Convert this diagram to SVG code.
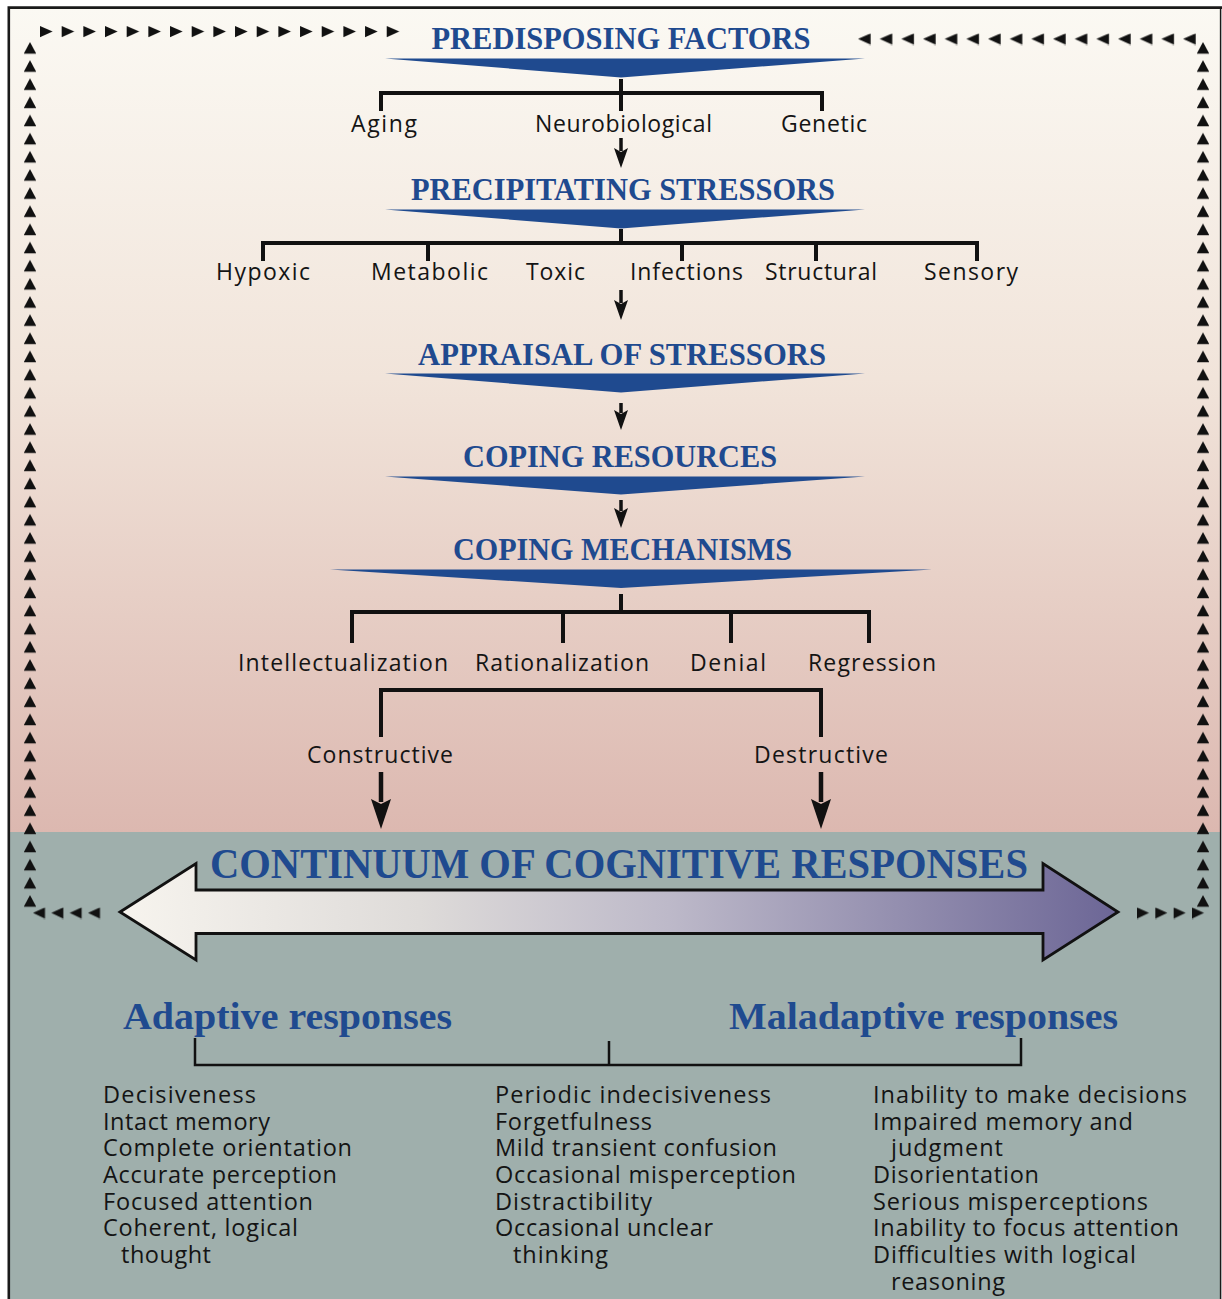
<svg xmlns="http://www.w3.org/2000/svg" width="1222" height="1299" viewBox="0 0 1222 1299">
  <defs>
    <style>
      .head { font-family: "Liberation Serif", "Times New Roman", serif; font-weight: bold; fill: #1f4a8f; }
      .lbl { font-family: "Open Sans", "Noto Sans", "DejaVu Sans", sans-serif; font-size: 23px; fill: #141414; }
      .lst { font-family: "Open Sans", "Noto Sans", "DejaVu Sans", sans-serif; font-size: 23.5px; fill: #141414; }
      .bar { fill: none; stroke: #111; stroke-width: 4; stroke-linejoin: miter; stroke-linecap: butt; }
      .thin { fill: none; stroke: #111; stroke-width: 2.5; }
      .banner { fill: #1f4a8f; }
      .step { stroke: #111; stroke-width: 3.5; }
    </style>
    <linearGradient id="bgTop" x1="0" y1="8" x2="0" y2="832" gradientUnits="userSpaceOnUse">
      <stop offset="0" stop-color="#fbf9f3"/>
      <stop offset="0.45" stop-color="#f1e4da"/>
      <stop offset="1" stop-color="#dcb8b0"/>
    </linearGradient>
    <linearGradient id="arrowFill" x1="120" y1="0" x2="1118" y2="0" gradientUnits="userSpaceOnUse">
      <stop offset="0" stop-color="#f7f4ee"/>
      <stop offset="0.3" stop-color="#dedbd9"/>
      <stop offset="0.55" stop-color="#bdb9c9"/>
      <stop offset="1" stop-color="#6c6696"/>
    </linearGradient>
    <!-- dotted feedback borders made of small triangles -->
    <pattern id="triUp" patternUnits="userSpaceOnUse" x="24" y="42" width="12" height="18.15">
      <path d="M6,0 L12.3,11.7 L-0.3,11.7 Z" fill="#111"/>
    </pattern>
    <pattern id="triRight" patternUnits="userSpaceOnUse" x="40" y="26" width="21.67" height="12">
      <path d="M0,0 L12.6,5.6 L0,11.2 Z" fill="#111"/>
    </pattern>
    <pattern id="triLeft" patternUnits="userSpaceOnUse" x="858" y="33.4" width="21.67" height="12">
      <path d="M12.6,0 L0,5.6 L12.6,11.2 Z" fill="#111"/>
    </pattern>
    <pattern id="triLeftS" patternUnits="userSpaceOnUse" x="33" y="907.4" width="18.33" height="12">
      <path d="M12,0 L0,5.6 L12,11.2 Z" fill="#111"/>
    </pattern>
    <pattern id="triRightS" patternUnits="userSpaceOnUse" x="1137" y="907.4" width="18.33" height="12">
      <path d="M0,0 L12,5.6 L0,11.2 Z" fill="#111"/>
    </pattern>
    <marker id="headS" viewBox="0 0 20 16" refX="3" refY="8" markerWidth="20" markerHeight="16" markerUnits="userSpaceOnUse" orient="auto">
      <path d="M0,1 L20,8 L0,15 L4,8 Z" fill="#111"/>
    </marker>
    <marker id="headL" viewBox="0 0 30 22" refX="3" refY="11" markerWidth="30" markerHeight="22" markerUnits="userSpaceOnUse" orient="auto">
      <path d="M0,1 L30,11 L0,21 L5,11 Z" fill="#111"/>
    </marker>
  </defs>

  <!-- backgrounds -->
  <rect x="0" y="0" width="1222" height="1299" fill="#ffffff"/>
  <rect x="9" y="8" width="1212" height="825" fill="url(#bgTop)"/>
  <rect x="9" y="832" width="1212" height="470" fill="#9fafac"/>
  <path d="M8.8,1305 V7.6 H1222" fill="none" stroke="#1a1a1a" stroke-width="2.6"/>
  <path d="M1220.6,7.6 V1305" fill="none" stroke="#1a1a1a" stroke-width="1.5"/>

  <!-- feedback loop borders -->
  <g id="feedback-loop">
    <rect x="24" y="42" width="12" height="866" fill="url(#triUp)"/>
    <rect x="24" y="42" width="12" height="866" fill="url(#triUp)" transform="translate(1173,0)"/>
    <rect x="40" y="26" width="360" height="12" fill="url(#triRight)"/>
    <rect x="858" y="33.4" width="340" height="12" fill="url(#triLeft)"/>
    <rect x="33" y="907.4" width="68" height="12" fill="url(#triLeftS)"/>
    <rect x="1137" y="907.4" width="68" height="12" fill="url(#triRightS)"/>
  </g>

  <!-- connectors -->
  <g id="connectors">
    <path class="bar" d="M381,111 V93 H822 V111 M621,79 V111"/>
    <path class="bar" d="M263,261 V243 H977 V261 M428,243 V261 M682,243 V261 M816,243 V261 M621,229 V243"/>
    <path class="bar" d="M352,643 V612 H869 V643 M563,612 V643 M731,612 V643 M621,594 V612"/>
    <path class="bar" d="M381,737 V690 H821 V737" stroke-width="4.6"/>
    <line class="step" x1="621" y1="138" x2="621" y2="151" marker-end="url(#headS)"/>
    <line class="step" x1="621" y1="290" x2="621" y2="303" marker-end="url(#headS)"/>
    <line class="step" x1="621" y1="403" x2="621" y2="413" marker-end="url(#headS)"/>
    <line class="step" x1="621" y1="500" x2="621" y2="511" marker-end="url(#headS)"/>
    <line x1="381" y1="772" x2="381" y2="802" stroke="#111" stroke-width="4.5" marker-end="url(#headL)"/>
    <line x1="821" y1="772" x2="821" y2="802" stroke="#111" stroke-width="4.5" marker-end="url(#headL)"/>
    <path class="thin" d="M195,1038 V1065 H1021 V1038 M609,1041 V1065"/>
  </g>

  <!-- stage headings with their wedge banners -->
  <g id="predisposing-factors">
    <text class="head" x="621" y="49" font-size="31" text-anchor="middle" textLength="379" lengthAdjust="spacingAndGlyphs">PREDISPOSING FACTORS</text>
    <path class="banner" d="M385,58.5 L865,58.5 L621,77.5 Z"/>
  </g>
  <g id="precipitating-stressors">
    <text class="head" x="623" y="200" font-size="31" text-anchor="middle" textLength="424" lengthAdjust="spacingAndGlyphs">PRECIPITATING STRESSORS</text>
    <path class="banner" d="M385,209.5 L865,209.5 L621,228.5 Z"/>
  </g>
  <g id="appraisal-of-stressors">
    <text class="head" x="622" y="365" font-size="31" text-anchor="middle" textLength="408" lengthAdjust="spacingAndGlyphs">APPRAISAL OF STRESSORS</text>
    <path class="banner" d="M385,373.5 L865,373.5 L621,392.5 Z"/>
  </g>
  <g id="coping-resources">
    <text class="head" x="620" y="467" font-size="31" text-anchor="middle" textLength="314" lengthAdjust="spacingAndGlyphs">COPING RESOURCES</text>
    <path class="banner" d="M385,476.5 L865,476.5 L621,494.5 Z"/>
  </g>
  <g id="coping-mechanisms">
    <text class="head" x="622.5" y="560" font-size="31" text-anchor="middle" textLength="339" lengthAdjust="spacingAndGlyphs">COPING MECHANISMS</text>
    <path class="banner" d="M330,569.5 L932,569.5 L621,588 Z"/>
  </g>

  <!-- predisposing factors -->
  <g id="aging"><text class="lbl" x="351" y="132" textLength="66">Aging</text></g>
  <g id="neurobiological"><text class="lbl" x="535" y="132" textLength="177">Neurobiological</text></g>
  <g id="genetic"><text class="lbl" x="781" y="132" textLength="86">Genetic</text></g>

  <!-- precipitating stressors -->
  <g id="hypoxic"><text class="lbl" x="216" y="280" textLength="94">Hypoxic</text></g>
  <g id="metabolic"><text class="lbl" x="371" y="280" textLength="117">Metabolic</text></g>
  <g id="toxic"><text class="lbl" x="526" y="280" textLength="59">Toxic</text></g>
  <g id="infections"><text class="lbl" x="630" y="280" textLength="113">Infections</text></g>
  <g id="structural"><text class="lbl" x="765" y="280" textLength="112">Structural</text></g>
  <g id="sensory"><text class="lbl" x="924" y="280" textLength="94">Sensory</text></g>

  <!-- coping mechanisms -->
  <g id="intellectualization"><text class="lbl" x="238" y="671" textLength="210">Intellectualization</text></g>
  <g id="rationalization"><text class="lbl" x="475" y="671" textLength="174">Rationalization</text></g>
  <g id="denial"><text class="lbl" x="690" y="671" textLength="76">Denial</text></g>
  <g id="regression"><text class="lbl" x="808" y="671" textLength="128">Regression</text></g>
  <g id="constructive"><text class="lbl" x="307" y="763" textLength="146">Constructive</text></g>
  <g id="destructive"><text class="lbl" x="754" y="763" textLength="134">Destructive</text></g>

  <!-- continuum of responses -->
  <g id="continuum">
    <path d="M120,912 L196,863.5 L196,890 L1043,890 L1043,863.5 L1118,912 L1043,960 L1043,933.5 L196,933.5 L196,960 Z" fill="url(#arrowFill)" stroke="#111" stroke-width="2.8" stroke-linejoin="miter"/>
    <text class="head" x="619" y="878" font-size="42" text-anchor="middle" textLength="818" lengthAdjust="spacingAndGlyphs">CONTINUUM OF COGNITIVE RESPONSES</text>
  </g>

  <g id="adaptive-responses">
    <text class="head" x="287.5" y="1029" font-size="37" text-anchor="middle" textLength="329" lengthAdjust="spacingAndGlyphs">Adaptive responses</text>
  </g>
  <g id="maladaptive-responses">
    <text class="head" x="923.5" y="1029" font-size="37" text-anchor="middle" textLength="389" lengthAdjust="spacingAndGlyphs">Maladaptive responses</text>
  </g>

  <g id="adaptive-list">
    <text class="lst" x="103" y="1103" textLength="153">Decisiveness</text>
    <text class="lst" x="103" y="1130" textLength="167">Intact memory</text>
    <text class="lst" x="103" y="1156" textLength="249">Complete orientation</text>
    <text class="lst" x="103" y="1183" textLength="234">Accurate perception</text>
    <text class="lst" x="103" y="1210" textLength="210">Focused attention</text>
    <text class="lst" x="103" y="1236" textLength="195">Coherent, logical</text>
    <text class="lst" x="121" y="1263" textLength="90">thought</text>
  </g>
  <g id="intermediate-list">
    <text class="lst" x="495" y="1103" textLength="276">Periodic indecisiveness</text>
    <text class="lst" x="495" y="1130" textLength="157">Forgetfulness</text>
    <text class="lst" x="495" y="1156" textLength="282">Mild transient confusion</text>
    <text class="lst" x="495" y="1183" textLength="301">Occasional misperception</text>
    <text class="lst" x="495" y="1210" textLength="157">Distractibility</text>
    <text class="lst" x="495" y="1236" textLength="218">Occasional unclear</text>
    <text class="lst" x="513" y="1263" textLength="95">thinking</text>
  </g>
  <g id="maladaptive-list">
    <text class="lst" x="873" y="1103" textLength="314">Inability to make decisions</text>
    <text class="lst" x="873" y="1130" textLength="260">Impaired memory and</text>
    <text class="lst" x="891" y="1156" textLength="112">judgment</text>
    <text class="lst" x="873" y="1183" textLength="166">Disorientation</text>
    <text class="lst" x="873" y="1210" textLength="275">Serious misperceptions</text>
    <text class="lst" x="873" y="1236" textLength="306">Inability to focus attention</text>
    <text class="lst" x="873" y="1263" textLength="263">Difficulties with logical</text>
    <text class="lst" x="891" y="1290" textLength="114">reasoning</text>
  </g>
</svg>
